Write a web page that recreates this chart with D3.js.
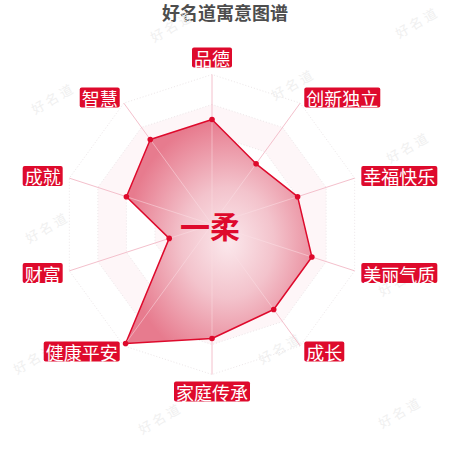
<!DOCTYPE html>
<html>
<head>
<meta charset="utf-8">
<script src="https://cdn.jsdelivr.net/npm/d3@7"></script>
<style>
    body { margin: 0; background: #fff; }
    svg { display: block; }
</style>
</head>
<body>
<div id="chart"></div>
<script>
// indicators, going round counter-clockwise from the top
const indicators = ["品德", "智慧", "成就", "财富", "健康平安", "家庭传承", "成长", "美丽气质", "幸福快乐", "创新独立"];
const values = [70, 70, 60, 30, 98, 76, 70, 70, 60, 50];
const maxValue = 100;
const splitLevels = [20, 40, 60, 80, 100];
const nameText = "一柔";
const titleText = "好名道寓意图谱";
const watermarkText = "好名道";
const watermarks = [[172, 26], [417, 22], [53, 98], [293, 84], [408, 147], [47, 227],
                    [295, 212], [400, 280], [35, 358], [280, 348], [160, 418], [400, 412]];

const W = 450, H = 450;
const cx = 212, cy = 224.5;
const R = 150;
const red = "#de0a2c";

let svg = d3.select("#chart")
    .append("svg")
    .attr("width", W)
    .attr("height", H);

let rScale = d3.scaleLinear()
    .domain([0, maxValue])
    .range([0, R]);

let aScale = d3.scaleBand()
    .domain(indicators)
    .range([0, 2 * Math.PI]);

function px(name, v) {
    let a = aScale(name);
    return cx - rScale(v) * Math.sin(a);
}
function py(name, v) {
    let a = aScale(name);
    return cy - rScale(v) * Math.cos(a);
}

// title
svg.append("text")
    .attr("x", 225)
    .attr("y", 12)
    .attr("text-anchor", "middle")
    .attr("dominant-baseline", "central")
    .attr("font-family", "'Noto Sans CJK SC', sans-serif")
    .attr("font-size", 18)
    .attr("font-weight", "bold")
    .attr("fill", "#4d4d4d")
    .text(titleText);

// watermarks (under the chart)
let wm = svg.append("g");

// split areas (alternating bands)
let grid = svg.append("g");
let ring = v => indicators.map(n => [px(n, v), py(n, v)]);

splitLevels.forEach((lv, i) => {
    if (i % 2 === 1) {
        let inner = ring(splitLevels[i - 1]);
        let outer = ring(lv);
        let d = "M" + outer.join("L") + "Z" + "M" + inner.reverse().join("L") + "Z";
        grid.append("path")
            .attr("d", d)
            .attr("fill", "#fef6f8")
            .attr("fill-rule", "evenodd");
    }
});

splitLevels.forEach(lv => {
    grid.append("polygon")
        .attr("points", ring(lv).join(" "))
        .attr("fill", "none")
        .attr("stroke", "#ece6e8")
        .attr("stroke-width", 1)
        .attr("stroke-dasharray", "1,2");
});

// axis lines
grid.selectAll("line")
    .data(indicators)
    .enter()
    .append("line")
    .attr("x1", cx)
    .attr("y1", cy)
    .attr("x2", d => px(d, maxValue))
    .attr("y2", d => py(d, maxValue))
    .attr("stroke", "#f4c0cc")
    .attr("stroke-width", 1);

// area
let defs = svg.append("defs");
let grad = defs.append("radialGradient")
    .attr("id", "areaGrad")
    .attr("cx", "55%").attr("cy", "55%").attr("r", "55%");
grad.append("stop").attr("offset", "0%").attr("stop-color", "#fbe8ec");
grad.append("stop").attr("offset", "45%").attr("stop-color", "#f3c3cc");
grad.append("stop").attr("offset", "100%").attr("stop-color", "#e77b8e");

let pts = indicators.map((n, i) => [px(n, values[i]), py(n, values[i])]);

svg.append("path")
    .attr("d", d3.line()(pts) + "Z")
    .attr("fill", "url(#areaGrad)")
    .attr("stroke", red)
    .attr("stroke-width", 1.5)
    .attr("stroke-linejoin", "round");

// axis lines show faintly through the area
svg.append("g").selectAll("line")
    .data(indicators)
    .enter()
    .append("line")
    .attr("x1", cx)
    .attr("y1", cy)
    .attr("x2", (d, i) => px(d, values[i]))
    .attr("y2", (d, i) => py(d, values[i]))
    .attr("stroke", "#fbdfe5")
    .attr("stroke-opacity", 0.5)
    .attr("stroke-width", 1);

svg.selectAll("circle.pt")
    .data(indicators)
    .enter()
    .append("circle")
    .attr("class", "pt")
    .attr("cx", (d, i) => px(d, values[i]))
    .attr("cy", (d, i) => py(d, values[i]))
    .attr("r", 2.8)
    .attr("fill", red);

// indicator labels in red boxes
let labelR = rScale(maxValue) + 7;
indicators.forEach(n => {
    let a = aScale(n);
    let s = -Math.sin(a), c = Math.cos(a);
    let ax = cx + labelR * s, ay = cy - labelR * c;
    let g = svg.append("g");
    let t = g.append("text")
        .attr("font-family", "'Noto Sans CJK SC', sans-serif")
        .attr("font-size", 18)
        .attr("fill", "#fff")
        .attr("dominant-baseline", "central")
        .text(n);
    let tw = t.node().getComputedTextLength();
    let bw = tw + 4, bh = 20;
    let bx, by;
    if (s > 0.01) bx = ax;
    else if (s < -0.01) bx = ax - bw;
    else bx = ax - bw / 2;
    if (Math.abs(s) > 0.01) by = ay - bh / 2;
    else if (c > 0) by = ay - bh;
    else by = ay;
    g.insert("rect", "text")
        .attr("x", bx).attr("y", by)
        .attr("width", bw).attr("height", bh)
        .attr("rx", 2)
        .attr("fill", red);
    t.attr("x", bx + 2).attr("y", by + bh / 2 + 0.5);
});

// name in the middle
svg.append("text")
    .attr("x", cx - 2)
    .attr("y", cy)
    .attr("text-anchor", "middle")
    .attr("dominant-baseline", "central")
    .attr("font-family", "'Noto Sans CJK SC', sans-serif")
    .attr("font-size", 30)
    .attr("font-weight", "bold")
    .attr("fill", red)
    .text(nameText);

// watermarks
wm.selectAll("text")
    .data(watermarks)
    .enter()
    .append("text")
    .attr("transform", d => "translate(" + d[0] + "," + d[1] + ") rotate(-30)")
    .attr("text-anchor", "middle")
    .attr("dominant-baseline", "central")
    .attr("font-family", "'Noto Sans CJK SC', sans-serif")
    .attr("font-size", 13)
    .attr("letter-spacing", 3)
    .attr("fill", "#f0f0f0")
    .text(watermarkText);
</script>
</body>
</html>
